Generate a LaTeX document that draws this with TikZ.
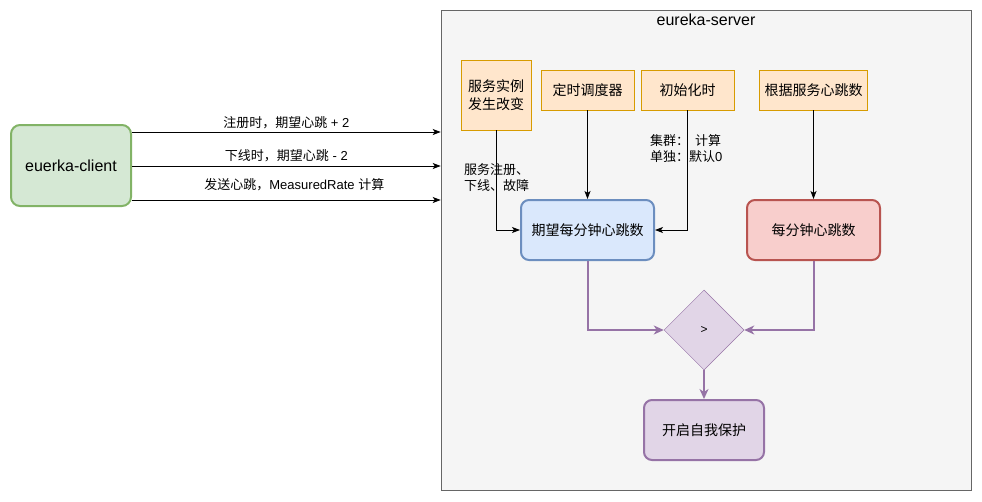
\documentclass[tikz,border=0pt]{standalone}
\usepackage{fontspec}
\setmainfont{Liberation Sans}
\newfontfamily\cjk{Noto Sans CJK SC}
\usetikzlibrary{arrows.meta,shapes.geometric}
\definecolor{clientfill}{HTML}{D5E8D4}
\definecolor{clientline}{HTML}{82B366}
\definecolor{serverfill}{HTML}{F5F5F5}
\definecolor{serverline}{HTML}{666666}
\definecolor{srcfill}{HTML}{FFE6CC}
\definecolor{srcline}{HTML}{D79B00}
\definecolor{expfill}{HTML}{DAE8FC}
\definecolor{expline}{HTML}{6C8EBF}
\definecolor{actfill}{HTML}{F8CECC}
\definecolor{actline}{HTML}{B85450}
\definecolor{cmpfill}{HTML}{E1D5E7}
\definecolor{cmpline}{HTML}{9673A6}
\begin{document}
\begin{tikzpicture}[x=1pt, y=-1pt,
    every node/.style={font=\fontsize{14}{17}\selectfont, inner sep=0pt},
    srcbox/.style={draw=srcline, fill=srcfill, line width=0.8pt, align=center},
    roundbox/.style={rounded corners=8pt, line width=2pt, minimum width=133pt, minimum height=60pt},
    arr/.style={-{Stealth[length=8pt,width=6pt,inset=2pt]}, line width=0.8pt},
    parr/.style={-{Stealth[length=10pt,width=9pt,inset=3pt]}, draw=cmpline, line width=2pt},
    lbl/.style={font=\fontsize{13}{16}\selectfont}]
    \useasboundingbox (0,0) rectangle (982,501);

    % Server container
    \node[draw=serverline, fill=serverfill, line width=0.6pt, minimum width=530pt, minimum height=480pt] (server) at (706,250) {};
    \node[font=\fontsize{16}{19}\selectfont] (title) at (706,20) {eureka-server};

    % Client
    \node[draw=clientline, fill=clientfill, rounded corners=9pt, line width=2pt, minimum width=120pt, minimum height=81pt] (client) at (71,165.5) {\fontsize{16}{19}\selectfont euerka-client};

    % Sources
    \node[srcbox, minimum width=70pt, minimum height=70pt] (change) at (496,95) {{\cjk 服务实例}\\[1pt]{\cjk 发生改变}};
    \node[srcbox, minimum width=93pt, minimum height=40pt] (timer) at (587.5,90) {\cjk 定时调度器};
    \node[srcbox, minimum width=93pt, minimum height=40pt] (init) at (687.5,90) {\cjk 初始化时};
    \node[srcbox, minimum width=108pt, minimum height=40pt] (count) at (813.5,90) {\cjk 根据服务心跳数};

    % Heartbeat counts
    \node[roundbox, draw=expline, fill=expfill] (expect) at (587.5,230) {\cjk 期望每分钟心跳数};
    \node[roundbox, draw=actline, fill=actfill] (actual) at (813.5,230) {\cjk 每分钟心跳数};

    % Compare
    \node[diamond, draw=cmpline, fill=cmpfill, line width=0.5pt, minimum width=80pt, minimum height=80pt, aspect=1, font=\fontsize{12}{14}\selectfont] (cmp) at (704,330) {>};

    % Self preservation
    \node[roundbox, draw=cmpline, fill=cmpfill, minimum width=120pt] (protect) at (704,430) {\cjk 开启自我保护};

    % Client arrows
    \draw[arr] (client.east |- 0,132) -- node[lbl, above=3pt] (lblreg) {{\cjk 注册时，期望心跳} + 2} (server.west |- 0,132);
    \draw[arr] (client.east |- 0,166) -- node[lbl, above=4pt] (lbldown) {{\cjk 下线时，期望心跳} - 2} (server.west |- 0,166);
    \draw[arr] (client.east |- 0,200) -- node[lbl, above=9pt, xshift=8pt] (lblsend) {{\cjk 发送心跳，}MeasuredRate {\cjk 计算}} (server.west |- 0,200);

    % Server arrows
    \draw[arr] (change) |- (expect);
    \node[lbl, align=left, anchor=west] (lblchange) at (464,178) {{\cjk 服务注册、}\\{\cjk 下线、故障}};
    \draw[arr] (timer) -- (expect);
    \draw[arr] (init) |- (expect);
    \node[lbl, align=left, anchor=west] (lblinit) at (650,149) {{\cjk 集群：\ \ 计算}\\{\cjk 单独：默认}0};
    \draw[arr] (count) -- (actual);

    \draw[parr] (expect) |- (cmp);
    \draw[parr] (actual) |- (cmp);
    \draw[parr] (cmp) -- (protect);
\end{tikzpicture}
\end{document}
